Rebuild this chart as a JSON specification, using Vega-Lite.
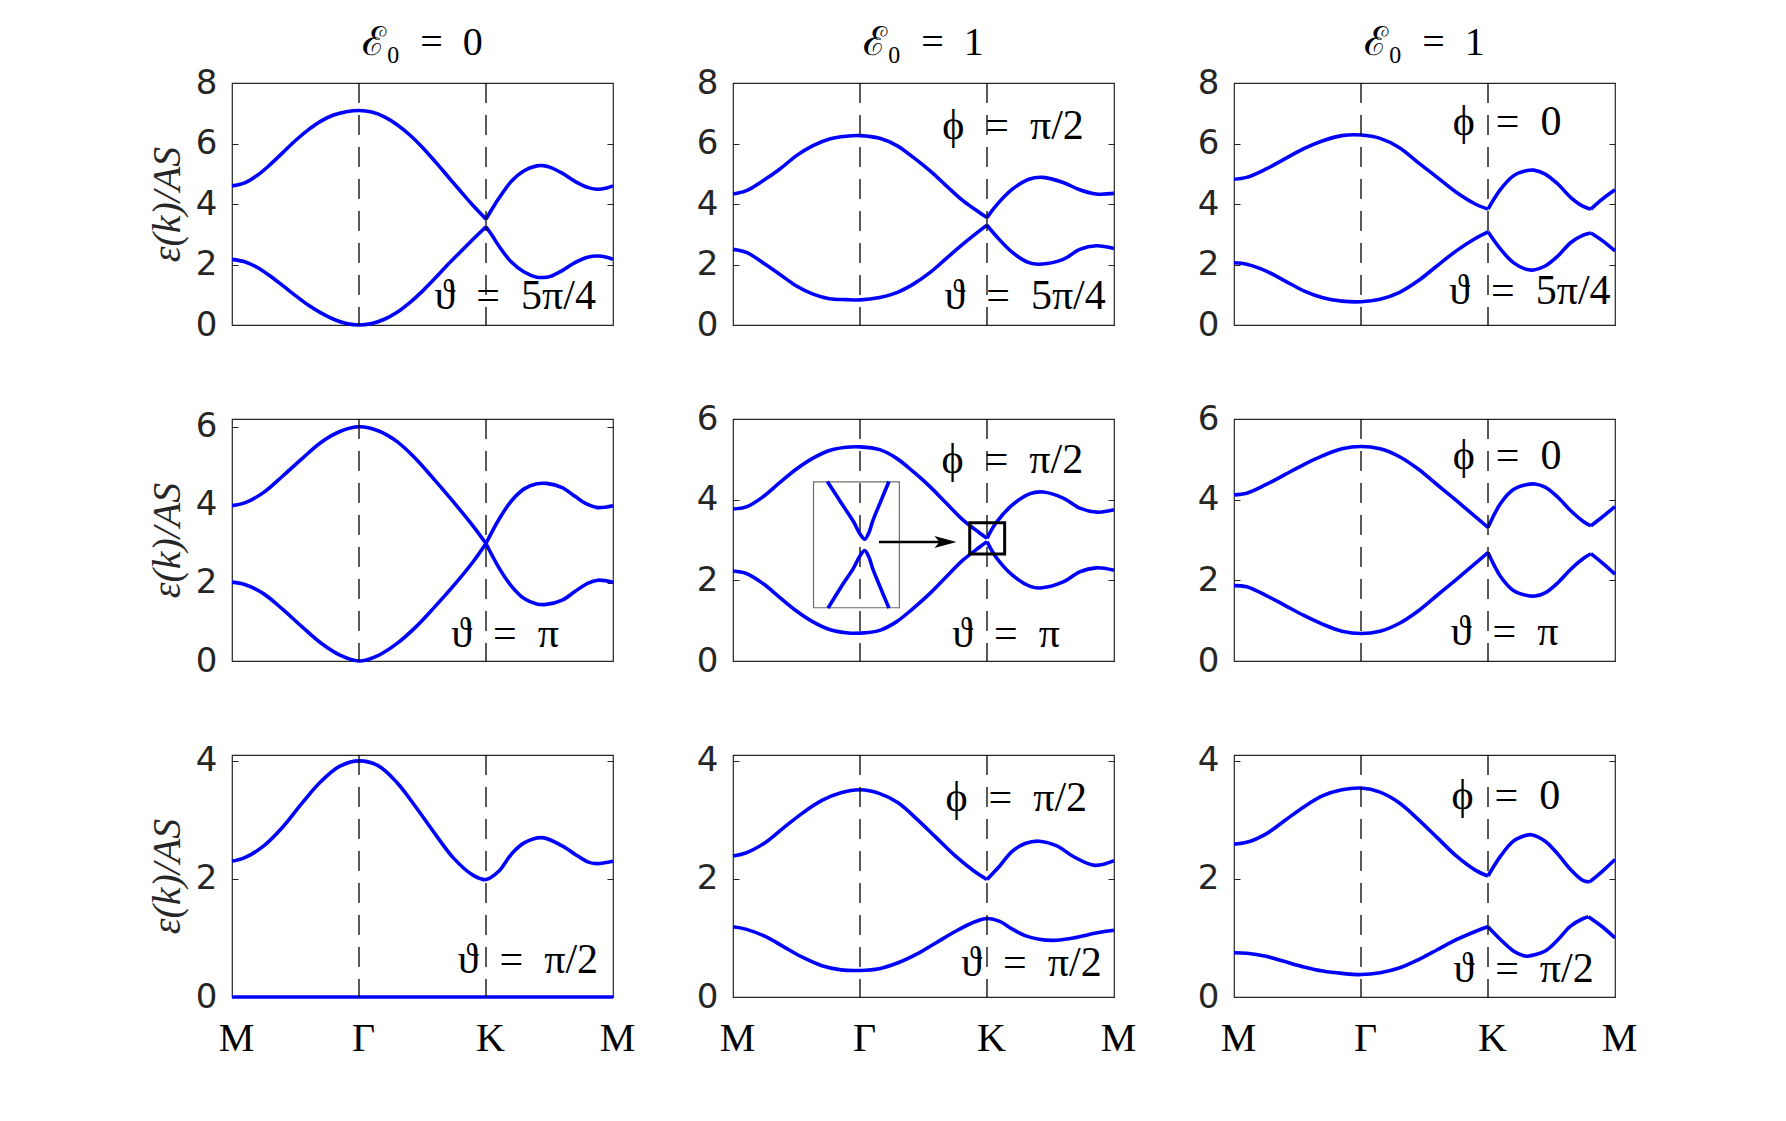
{
 "$schema": "https://vega.github.io/schema/vega-lite/v6.json",
 "background": "white",
 "padding": {"left": 146, "top": 22, "right": 10, "bottom": 10},
 "config": {"view": {"stroke": "#262626", "strokeWidth": 1.2}, "axis": {"grid": false}},
 "datasets": {
  "b1": [
   {"s":"u1","x":0,"y":4.6},{"s":"u1","x":0.1,"y":4.7},{"s":"u1","x":0.2,"y":4.95},{"s":"u1","x":0.3,"y":5.3},{"s":"u1","x":0.4,"y":5.7},{"s":"u1","x":0.5,"y":6.1},{"s":"u1","x":0.6,"y":6.45},{"s":"u1","x":0.7,"y":6.74},{"s":"u1","x":0.8,"y":6.94},{"s":"u1","x":0.9,"y":7.05},{"s":"u1","x":1,"y":7.09},{"s":"u1","x":1.1,"y":7.04},{"s":"u1","x":1.2,"y":6.88},{"s":"u1","x":1.3,"y":6.62},{"s":"u1","x":1.4,"y":6.28},{"s":"u1","x":1.5,"y":5.87},{"s":"u1","x":1.6,"y":5.4},{"s":"u1","x":1.7,"y":4.91},{"s":"u1","x":1.8,"y":4.42},{"s":"u1","x":1.9,"y":3.94},{"s":"u1","x":2,"y":3.5},
   {"s":"u2","x":2,"y":3.5},{"s":"u2","x":2.05,"y":3.85},{"s":"u2","x":2.1,"y":4.18},{"s":"u2","x":2.2,"y":4.75},{"s":"u2","x":2.3,"y":5.1},{"s":"u2","x":2.4,"y":5.26},{"s":"u2","x":2.45,"y":5.27},{"s":"u2","x":2.5,"y":5.22},{"s":"u2","x":2.6,"y":5.02},{"s":"u2","x":2.7,"y":4.75},{"s":"u2","x":2.8,"y":4.55},{"s":"u2","x":2.87,"y":4.49},{"s":"u2","x":2.95,"y":4.53},{"s":"u2","x":3,"y":4.6},
   {"s":"l1","x":0,"y":2.17},{"s":"l1","x":0.1,"y":2.09},{"s":"l1","x":0.2,"y":1.9},{"s":"l1","x":0.3,"y":1.62},{"s":"l1","x":0.4,"y":1.3},{"s":"l1","x":0.5,"y":0.97},{"s":"l1","x":0.6,"y":0.66},{"s":"l1","x":0.7,"y":0.4},{"s":"l1","x":0.8,"y":0.19},{"s":"l1","x":0.9,"y":0.05},{"s":"l1","x":1,"y":0},{"s":"l1","x":1.1,"y":0.05},{"s":"l1","x":1.2,"y":0.19},{"s":"l1","x":1.3,"y":0.42},{"s":"l1","x":1.4,"y":0.74},{"s":"l1","x":1.5,"y":1.12},{"s":"l1","x":1.6,"y":1.55},{"s":"l1","x":1.7,"y":2.0},{"s":"l1","x":1.8,"y":2.42},{"s":"l1","x":1.9,"y":2.84},{"s":"l1","x":2,"y":3.25},
   {"s":"l2","x":2,"y":3.25},{"s":"l2","x":2.05,"y":2.95},{"s":"l2","x":2.1,"y":2.62},{"s":"l2","x":2.2,"y":2.08},{"s":"l2","x":2.3,"y":1.75},{"s":"l2","x":2.4,"y":1.58},{"s":"l2","x":2.45,"y":1.57},{"s":"l2","x":2.5,"y":1.6},{"s":"l2","x":2.6,"y":1.8},{"s":"l2","x":2.7,"y":2.06},{"s":"l2","x":2.8,"y":2.24},{"s":"l2","x":2.88,"y":2.28},{"s":"l2","x":2.95,"y":2.24},{"s":"l2","x":3,"y":2.17}
  ],
  "b2": [
   {"s":"u1","x":0,"y":4.33},{"s":"u1","x":0.105,"y":4.44},{"s":"u1","x":0.236,"y":4.77},{"s":"u1","x":0.367,"y":5.15},{"s":"u1","x":0.5,"y":5.6},{"s":"u1","x":0.63,"y":5.93},{"s":"u1","x":0.76,"y":6.15},{"s":"u1","x":0.89,"y":6.24},{"s":"u1","x":1,"y":6.26},{"s":"u1","x":1.155,"y":6.17},{"s":"u1","x":1.29,"y":5.93},{"s":"u1","x":1.42,"y":5.54},{"s":"u1","x":1.55,"y":5.1},{"s":"u1","x":1.68,"y":4.6},{"s":"u1","x":1.81,"y":4.11},{"s":"u1","x":1.94,"y":3.72},{"s":"u1","x":2,"y":3.55},
   {"s":"u2","x":2,"y":3.55},{"s":"u2","x":2.07,"y":3.94},{"s":"u2","x":2.2,"y":4.49},{"s":"u2","x":2.33,"y":4.82},{"s":"u2","x":2.44,"y":4.88},{"s":"u2","x":2.6,"y":4.71},{"s":"u2","x":2.73,"y":4.47},{"s":"u2","x":2.86,"y":4.33},{"s":"u2","x":3,"y":4.35},
   {"s":"l1","x":0,"y":2.5},{"s":"l1","x":0.105,"y":2.4},{"s":"l1","x":0.236,"y":2.06},{"s":"l1","x":0.367,"y":1.68},{"s":"l1","x":0.5,"y":1.29},{"s":"l1","x":0.63,"y":1.02},{"s":"l1","x":0.76,"y":0.87},{"s":"l1","x":0.89,"y":0.84},{"s":"l1","x":1,"y":0.83},{"s":"l1","x":1.155,"y":0.91},{"s":"l1","x":1.29,"y":1.07},{"s":"l1","x":1.42,"y":1.35},{"s":"l1","x":1.55,"y":1.73},{"s":"l1","x":1.68,"y":2.2},{"s":"l1","x":1.81,"y":2.67},{"s":"l1","x":1.94,"y":3.11},{"s":"l1","x":2,"y":3.3},
   {"s":"l2","x":2,"y":3.3},{"s":"l2","x":2.07,"y":2.95},{"s":"l2","x":2.2,"y":2.4},{"s":"l2","x":2.33,"y":2.06},{"s":"l2","x":2.41,"y":2.01},{"s":"l2","x":2.6,"y":2.17},{"s":"l2","x":2.73,"y":2.5},{"s":"l2","x":2.86,"y":2.62},{"s":"l2","x":3,"y":2.53}
  ],
  "b3": [
   {"s":"u1","x":0,"y":4.82},{"s":"u1","x":0.1,"y":4.88},{"s":"u1","x":0.25,"y":5.15},{"s":"u1","x":0.4,"y":5.49},{"s":"u1","x":0.55,"y":5.83},{"s":"u1","x":0.7,"y":6.09},{"s":"u1","x":0.85,"y":6.26},{"s":"u1","x":1,"y":6.28},{"s":"u1","x":1.15,"y":6.17},{"s":"u1","x":1.3,"y":5.87},{"s":"u1","x":1.45,"y":5.37},{"s":"u1","x":1.6,"y":4.88},{"s":"u1","x":1.75,"y":4.39},{"s":"u1","x":1.9,"y":4},{"s":"u1","x":2,"y":3.83},
   {"s":"u2","x":2,"y":3.83},{"s":"u2","x":2.1,"y":4.49},{"s":"u2","x":2.2,"y":4.93},{"s":"u2","x":2.3,"y":5.1},{"s":"u2","x":2.36,"y":5.12},{"s":"u2","x":2.45,"y":4.99},{"s":"u2","x":2.55,"y":4.66},{"s":"u2","x":2.65,"y":4.22},{"s":"u2","x":2.75,"y":3.92},{"s":"u2","x":2.81,"y":3.83},
   {"s":"u3","x":2.81,"y":3.83},{"s":"u3","x":2.9,"y":4.16},{"s":"u3","x":3,"y":4.47},
   {"s":"l1","x":0,"y":2.06},{"s":"l1","x":0.1,"y":2.01},{"s":"l1","x":0.25,"y":1.79},{"s":"l1","x":0.4,"y":1.46},{"s":"l1","x":0.55,"y":1.13},{"s":"l1","x":0.7,"y":0.9},{"s":"l1","x":0.85,"y":0.79},{"s":"l1","x":1,"y":0.77},{"s":"l1","x":1.15,"y":0.85},{"s":"l1","x":1.3,"y":1.07},{"s":"l1","x":1.45,"y":1.46},{"s":"l1","x":1.6,"y":1.96},{"s":"l1","x":1.75,"y":2.45},{"s":"l1","x":1.9,"y":2.86},{"s":"l1","x":2,"y":3.08},
   {"s":"l2","x":2,"y":3.08},{"s":"l2","x":2.1,"y":2.5},{"s":"l2","x":2.2,"y":2.06},{"s":"l2","x":2.3,"y":1.84},{"s":"l2","x":2.36,"y":1.82},{"s":"l2","x":2.45,"y":1.95},{"s":"l2","x":2.55,"y":2.28},{"s":"l2","x":2.65,"y":2.72},{"s":"l2","x":2.75,"y":2.97},{"s":"l2","x":2.81,"y":3.04},
   {"s":"l3","x":2.81,"y":3.04},{"s":"l3","x":2.9,"y":2.79},{"s":"l3","x":3,"y":2.45}
  ],
  "b4": [
   {"s":"u1","x":0,"y":3.98},{"s":"u1","x":0.1,"y":4.05},{"s":"u1","x":0.25,"y":4.32},{"s":"u1","x":0.4,"y":4.74},{"s":"u1","x":0.55,"y":5.18},{"s":"u1","x":0.7,"y":5.6},{"s":"u1","x":0.85,"y":5.88},{"s":"u1","x":1,"y":6},{"s":"u1","x":1.15,"y":5.9},{"s":"u1","x":1.3,"y":5.62},{"s":"u1","x":1.45,"y":5.17},{"s":"u1","x":1.6,"y":4.62},{"s":"u1","x":1.75,"y":4.05},{"s":"u1","x":1.9,"y":3.45},{"s":"u1","x":2,"y":3.01},
   {"s":"u2","x":2,"y":3.01},{"s":"u2","x":2.1,"y":3.62},{"s":"u2","x":2.2,"y":4.1},{"s":"u2","x":2.3,"y":4.41},{"s":"u2","x":2.4,"y":4.54},{"s":"u2","x":2.475,"y":4.55},{"s":"u2","x":2.6,"y":4.44},{"s":"u2","x":2.7,"y":4.22},{"s":"u2","x":2.8,"y":4.01},{"s":"u2","x":2.88,"y":3.93},{"s":"u2","x":3,"y":3.98},
   {"s":"l1","x":0,"y":2.02},{"s":"l1","x":0.1,"y":1.96},{"s":"l1","x":0.25,"y":1.72},{"s":"l1","x":0.4,"y":1.32},{"s":"l1","x":0.55,"y":0.88},{"s":"l1","x":0.7,"y":0.46},{"s":"l1","x":0.85,"y":0.15},{"s":"l1","x":1,"y":0},{"s":"l1","x":1.15,"y":0.14},{"s":"l1","x":1.3,"y":0.45},{"s":"l1","x":1.45,"y":0.88},{"s":"l1","x":1.6,"y":1.4},{"s":"l1","x":1.75,"y":1.95},{"s":"l1","x":1.9,"y":2.55},{"s":"l1","x":2,"y":3.01},
   {"s":"l2","x":2,"y":3.01},{"s":"l2","x":2.1,"y":2.4},{"s":"l2","x":2.2,"y":1.92},{"s":"l2","x":2.3,"y":1.6},{"s":"l2","x":2.4,"y":1.46},{"s":"l2","x":2.475,"y":1.45},{"s":"l2","x":2.6,"y":1.56},{"s":"l2","x":2.7,"y":1.78},{"s":"l2","x":2.8,"y":1.99},{"s":"l2","x":2.88,"y":2.07},{"s":"l2","x":3,"y":2.02}
  ],
  "b5": [
   {"s":"u1","x":0,"y":3.77},{"s":"u1","x":0.105,"y":3.82},{"s":"u1","x":0.236,"y":4.07},{"s":"u1","x":0.367,"y":4.42},{"s":"u1","x":0.5,"y":4.76},{"s":"u1","x":0.63,"y":5.03},{"s":"u1","x":0.76,"y":5.22},{"s":"u1","x":0.89,"y":5.3},{"s":"u1","x":1,"y":5.31},{"s":"u1","x":1.155,"y":5.24},{"s":"u1","x":1.286,"y":5.03},{"s":"u1","x":1.417,"y":4.7},{"s":"u1","x":1.549,"y":4.33},{"s":"u1","x":1.68,"y":3.91},{"s":"u1","x":1.81,"y":3.5},{"s":"u1","x":1.94,"y":3.18},{"s":"u1","x":2,"y":3.04},
   {"s":"u2","x":2,"y":3.04},{"s":"u2","x":2.07,"y":3.42},{"s":"u2","x":2.2,"y":3.87},{"s":"u2","x":2.34,"y":4.15},{"s":"u2","x":2.44,"y":4.19},{"s":"u2","x":2.6,"y":4.04},{"s":"u2","x":2.73,"y":3.79},{"s":"u2","x":2.87,"y":3.69},{"s":"u2","x":3,"y":3.75},
   {"s":"l1","x":0,"y":2.23},{"s":"l1","x":0.105,"y":2.17},{"s":"l1","x":0.236,"y":1.92},{"s":"l1","x":0.367,"y":1.58},{"s":"l1","x":0.5,"y":1.24},{"s":"l1","x":0.63,"y":0.97},{"s":"l1","x":0.76,"y":0.78},{"s":"l1","x":0.89,"y":0.7},{"s":"l1","x":1,"y":0.69},{"s":"l1","x":1.155,"y":0.76},{"s":"l1","x":1.286,"y":0.97},{"s":"l1","x":1.417,"y":1.3},{"s":"l1","x":1.549,"y":1.67},{"s":"l1","x":1.68,"y":2.09},{"s":"l1","x":1.81,"y":2.5},{"s":"l1","x":1.94,"y":2.82},{"s":"l1","x":2,"y":2.96},
   {"s":"l2","x":2,"y":2.96},{"s":"l2","x":2.07,"y":2.58},{"s":"l2","x":2.2,"y":2.13},{"s":"l2","x":2.34,"y":1.85},{"s":"l2","x":2.42,"y":1.81},{"s":"l2","x":2.6,"y":1.96},{"s":"l2","x":2.73,"y":2.21},{"s":"l2","x":2.86,"y":2.31},{"s":"l2","x":3,"y":2.25}
  ],
  "b6": [
   {"s":"u1","x":0,"y":4.12},{"s":"u1","x":0.1,"y":4.16},{"s":"u1","x":0.25,"y":4.37},{"s":"u1","x":0.4,"y":4.62},{"s":"u1","x":0.55,"y":4.87},{"s":"u1","x":0.7,"y":5.09},{"s":"u1","x":0.85,"y":5.26},{"s":"u1","x":1,"y":5.32},{"s":"u1","x":1.15,"y":5.26},{"s":"u1","x":1.3,"y":5.07},{"s":"u1","x":1.45,"y":4.76},{"s":"u1","x":1.6,"y":4.37},{"s":"u1","x":1.75,"y":3.98},{"s":"u1","x":1.9,"y":3.58},{"s":"u1","x":2,"y":3.31},
   {"s":"u2","x":2,"y":3.31},{"s":"u2","x":2.1,"y":3.91},{"s":"u2","x":2.2,"y":4.25},{"s":"u2","x":2.3,"y":4.37},{"s":"u2","x":2.37,"y":4.39},{"s":"u2","x":2.45,"y":4.31},{"s":"u2","x":2.55,"y":4.06},{"s":"u2","x":2.65,"y":3.73},{"s":"u2","x":2.75,"y":3.46},{"s":"u2","x":2.81,"y":3.35},
   {"s":"u3","x":2.81,"y":3.35},{"s":"u3","x":2.9,"y":3.57},{"s":"u3","x":3,"y":3.83},
   {"s":"l1","x":0,"y":1.87},{"s":"l1","x":0.1,"y":1.84},{"s":"l1","x":0.25,"y":1.63},{"s":"l1","x":0.4,"y":1.38},{"s":"l1","x":0.55,"y":1.13},{"s":"l1","x":0.7,"y":0.91},{"s":"l1","x":0.85,"y":0.74},{"s":"l1","x":1,"y":0.68},{"s":"l1","x":1.15,"y":0.74},{"s":"l1","x":1.3,"y":0.93},{"s":"l1","x":1.45,"y":1.24},{"s":"l1","x":1.6,"y":1.63},{"s":"l1","x":1.75,"y":2.02},{"s":"l1","x":1.9,"y":2.42},{"s":"l1","x":2,"y":2.69},
   {"s":"l2","x":2,"y":2.69},{"s":"l2","x":2.1,"y":2.09},{"s":"l2","x":2.2,"y":1.75},{"s":"l2","x":2.3,"y":1.63},{"s":"l2","x":2.37,"y":1.61},{"s":"l2","x":2.45,"y":1.69},{"s":"l2","x":2.55,"y":1.94},{"s":"l2","x":2.65,"y":2.27},{"s":"l2","x":2.75,"y":2.54},{"s":"l2","x":2.81,"y":2.66},
   {"s":"l3","x":2.81,"y":2.66},{"s":"l3","x":2.9,"y":2.43},{"s":"l3","x":3,"y":2.15}
  ],
  "b7": [
   {"s":"u1","x":0,"y":2.3},{"s":"u1","x":0.1,"y":2.36},{"s":"u1","x":0.25,"y":2.56},{"s":"u1","x":0.4,"y":2.88},{"s":"u1","x":0.55,"y":3.28},{"s":"u1","x":0.7,"y":3.65},{"s":"u1","x":0.85,"y":3.91},{"s":"u1","x":1,"y":4},{"s":"u1","x":1.15,"y":3.92},{"s":"u1","x":1.3,"y":3.63},{"s":"u1","x":1.45,"y":3.21},{"s":"u1","x":1.6,"y":2.76},{"s":"u1","x":1.75,"y":2.34},{"s":"u1","x":1.9,"y":2.06},{"s":"u1","x":2,"y":1.99},{"s":"u1","x":2.1,"y":2.13},{"s":"u1","x":2.2,"y":2.42},{"s":"u1","x":2.3,"y":2.61},{"s":"u1","x":2.44,"y":2.7},{"s":"u1","x":2.6,"y":2.56},{"s":"u1","x":2.7,"y":2.42},{"s":"u1","x":2.8,"y":2.29},{"s":"u1","x":2.87,"y":2.26},{"s":"u1","x":3,"y":2.3},
   {"s":"l1","x":0,"y":0},{"s":"l1","x":3,"y":0}
  ],
  "b8": [
   {"s":"u1","x":0,"y":2.39},{"s":"u1","x":0.1,"y":2.44},{"s":"u1","x":0.25,"y":2.61},{"s":"u1","x":0.4,"y":2.87},{"s":"u1","x":0.55,"y":3.12},{"s":"u1","x":0.7,"y":3.33},{"s":"u1","x":0.85,"y":3.46},{"s":"u1","x":1,"y":3.51},{"s":"u1","x":1.15,"y":3.45},{"s":"u1","x":1.3,"y":3.29},{"s":"u1","x":1.45,"y":3.01},{"s":"u1","x":1.6,"y":2.7},{"s":"u1","x":1.75,"y":2.39},{"s":"u1","x":1.9,"y":2.13},{"s":"u1","x":2,"y":1.99},
   {"s":"u2","x":2,"y":1.99},{"s":"u2","x":2.1,"y":2.22},{"s":"u2","x":2.2,"y":2.47},{"s":"u2","x":2.3,"y":2.6},{"s":"u2","x":2.41,"y":2.64},{"s":"u2","x":2.55,"y":2.56},{"s":"u2","x":2.68,"y":2.38},{"s":"u2","x":2.85,"y":2.23},{"s":"u2","x":3,"y":2.31},
   {"s":"l1","x":0,"y":1.19},{"s":"l1","x":0.1,"y":1.15},{"s":"l1","x":0.25,"y":1.03},{"s":"l1","x":0.4,"y":0.85},{"s":"l1","x":0.55,"y":0.67},{"s":"l1","x":0.7,"y":0.53},{"s":"l1","x":0.85,"y":0.46},{"s":"l1","x":1,"y":0.45},{"s":"l1","x":1.15,"y":0.48},{"s":"l1","x":1.3,"y":0.58},{"s":"l1","x":1.45,"y":0.73},{"s":"l1","x":1.6,"y":0.92},{"s":"l1","x":1.75,"y":1.11},{"s":"l1","x":1.9,"y":1.27},{"s":"l1","x":2,"y":1.33},{"s":"l1","x":2.1,"y":1.28},{"s":"l1","x":2.2,"y":1.15},{"s":"l1","x":2.3,"y":1.04},{"s":"l1","x":2.41,"y":0.98},{"s":"l1","x":2.52,"y":0.96},{"s":"l1","x":2.68,"y":1},{"s":"l1","x":2.85,"y":1.08},{"s":"l1","x":3,"y":1.13}
  ],
  "b9": [
   {"s":"u1","x":0,"y":2.59},{"s":"u1","x":0.1,"y":2.62},{"s":"u1","x":0.25,"y":2.76},{"s":"u1","x":0.4,"y":2.99},{"s":"u1","x":0.55,"y":3.22},{"s":"u1","x":0.7,"y":3.41},{"s":"u1","x":0.85,"y":3.51},{"s":"u1","x":1,"y":3.54},{"s":"u1","x":1.15,"y":3.47},{"s":"u1","x":1.3,"y":3.29},{"s":"u1","x":1.45,"y":3.01},{"s":"u1","x":1.6,"y":2.7},{"s":"u1","x":1.75,"y":2.39},{"s":"u1","x":1.9,"y":2.15},{"s":"u1","x":2,"y":2.05},
   {"s":"u2","x":2,"y":2.05},{"s":"u2","x":2.1,"y":2.39},{"s":"u2","x":2.2,"y":2.64},{"s":"u2","x":2.3,"y":2.74},{"s":"u2","x":2.34,"y":2.75},{"s":"u2","x":2.45,"y":2.64},{"s":"u2","x":2.55,"y":2.42},{"s":"u2","x":2.65,"y":2.16},{"s":"u2","x":2.75,"y":1.97},{"s":"u2","x":2.8,"y":1.95},
   {"s":"u3","x":2.8,"y":1.95},{"s":"u3","x":2.9,"y":2.13},{"s":"u3","x":3,"y":2.33},
   {"s":"l1","x":0,"y":0.75},{"s":"l1","x":0.1,"y":0.74},{"s":"l1","x":0.25,"y":0.69},{"s":"l1","x":0.4,"y":0.6},{"s":"l1","x":0.55,"y":0.51},{"s":"l1","x":0.7,"y":0.44},{"s":"l1","x":0.85,"y":0.4},{"s":"l1","x":1,"y":0.38},{"s":"l1","x":1.15,"y":0.41},{"s":"l1","x":1.3,"y":0.49},{"s":"l1","x":1.45,"y":0.63},{"s":"l1","x":1.6,"y":0.8},{"s":"l1","x":1.75,"y":0.97},{"s":"l1","x":1.9,"y":1.11},{"s":"l1","x":2,"y":1.19},
   {"s":"l2","x":2,"y":1.19},{"s":"l2","x":2.1,"y":0.97},{"s":"l2","x":2.2,"y":0.78},{"s":"l2","x":2.28,"y":0.7},{"s":"l2","x":2.31,"y":0.69},{"s":"l2","x":2.45,"y":0.78},{"s":"l2","x":2.55,"y":0.97},{"s":"l2","x":2.65,"y":1.2},{"s":"l2","x":2.75,"y":1.33},{"s":"l2","x":2.79,"y":1.36},
   {"s":"l3","x":2.79,"y":1.36},{"s":"l3","x":2.9,"y":1.19},{"s":"l3","x":3,"y":1}
  ],
  "a1": [{"x":2.23,"y":0.53,"t":"\u03d1\u2002=\u20025\u03c0/4"}],
  "a2": [{"x":2.205,"y":6.15,"t":"\u03d5\u2002=\u2002\u03c0/2"},{"x":2.3,"y":0.53,"t":"\u03d1\u2002=\u20025\u03c0/4"}],
  "a3": [{"x":2.15,"y":6.28,"t":"\u03d5\u2002=\u20020"},{"x":2.33,"y":0.69,"t":"\u03d1\u2002=\u20025\u03c0/4"}],
  "a4": [{"x":2.15,"y":0.37,"t":"\u03d1\u2002=\u2002\u03c0"}],
  "a5": [{"x":2.2,"y":4.67,"t":"\u03d5\u2002=\u2002\u03c0/2"},{"x":2.15,"y":0.355,"t":"\u03d1\u2002=\u2002\u03c0"}],
  "a6": [{"x":2.15,"y":4.76,"t":"\u03d5\u2002=\u20020"},{"x":2.13,"y":0.4,"t":"\u03d1\u2002=\u2002\u03c0"}],
  "a7": [{"x":2.33,"y":0.4,"t":"\u03d1\u2002=\u2002\u03c0/2"}],
  "a8": [{"x":2.23,"y":3.15,"t":"\u03d5\u2002=\u2002\u03c0/2"},{"x":2.35,"y":0.36,"t":"\u03d1\u2002=\u2002\u03c0/2"}],
  "a9": [{"x":2.14,"y":3.18,"t":"\u03d5\u2002=\u20020"},{"x":2.28,"y":0.26,"t":"\u03d1\u2002=\u2002\u03c0/2"}],
  "dash": [{"x":1},{"x":2}],
  "insetbox": [{"x":0.634,"x2":1.31,"y":1.32,"y2":4.44}],
  "insetlines": [
   {"s":"u","x":0.743,"y":4.45},{"s":"u","x":0.85,"y":3.93},{"s":"u","x":0.95,"y":3.45},{"s":"u","x":1,"y":3.15},{"s":"u","x":1.037,"y":3.02},{"s":"u","x":1.07,"y":3.18},{"s":"u","x":1.1,"y":3.47},{"s":"u","x":1.15,"y":3.86},{"s":"u","x":1.228,"y":4.45},
   {"s":"l","x":0.748,"y":1.31},{"s":"l","x":0.85,"y":1.83},{"s":"l","x":0.95,"y":2.31},{"s":"l","x":1,"y":2.61},{"s":"l","x":1.037,"y":2.74},{"s":"l","x":1.07,"y":2.58},{"s":"l","x":1.1,"y":2.29},{"s":"l","x":1.15,"y":1.9},{"s":"l","x":1.228,"y":1.31}
  ],
  "arrow": [{"x":1.15,"y":2.95},{"x":1.66,"y":2.95}],
  "arrowhead": [{"x":1.673,"y":2.95}],
  "zoombox": [{"x":1.864,"x2":2.139,"y":2.65,"y2":3.43}]
 },
 "columns": 3,
 "spacing": {"row": 94, "column": 120},
 "bounds": "flush",
 "concat": [
  {
   "width": 381, "height": 242,
   "title": {"text": "\u2130\u2080\u2002=\u20020", "font": "Liberation Serif", "fontSize": 40, "fontWeight": "normal", "color": "black", "offset": -29, "baseline": "alphabetic"},
   "resolve": {"axis": {"y": "independent"}},
   "layer": [
    {"data": {"name": "b1"}, "mark": {"type": "line", "color": "#0000ff", "strokeWidth": 3.6, "interpolate": "catmull-rom"},
     "encoding": {"x": {"field": "x", "type": "quantitative", "scale": {"domain": [0, 3], "nice": false, "zero": false}, "axis": null},
      "y": {"field": "y", "type": "quantitative", "scale": {"domain": [0, 8], "nice": false, "zero": false},
       "axis": {"orient": "left", "values": [0, 2, 4, 6, 8], "offset": -6, "tickSize": 6, "tickColor": "#262626", "domain": false, "grid": false, "labelFont": "DejaVu Sans", "labelFontSize": 34, "labelColor": "#262626", "labelPadding": 15, "title": "\u03b5(k)/AS", "titleFont": "Liberation Serif", "titleFontStyle": "italic", "titleFontWeight": "normal", "titleFontSize": 40, "titleColor": "#262626", "titlePadding": 8}},
      "detail": {"field": "s"}}},
    {"data": {"name": "dash"}, "mark": {"type": "rule", "color": "black", "strokeWidth": 1.3, "strokeDash": [20, 12]},
     "encoding": {"x": {"field": "x", "type": "quantitative", "axis": null}}},
    {"data": {"name": "a1"}, "mark": {"type": "text", "font": "Liberation Serif", "fontSize": 42, "color": "black", "align": "center", "baseline": "alphabetic"},
     "encoding": {"x": {"field": "x", "type": "quantitative", "axis": null},
      "y": {"field": "y", "type": "quantitative", "axis": {"orient": "right", "values": [0, 2, 4, 6, 8], "offset": -6, "tickSize": 6, "tickColor": "#262626", "domain": false, "grid": false, "labels": false, "title": null}},
      "text": {"field": "t"}}}
   ]
  },
  {
   "width": 381, "height": 242,
   "title": {"text": "\u2130\u2080\u2002=\u20021", "font": "Liberation Serif", "fontSize": 40, "fontWeight": "normal", "color": "black", "offset": -29, "baseline": "alphabetic"},
   "resolve": {"axis": {"y": "independent"}},
   "layer": [
    {"data": {"name": "b2"}, "mark": {"type": "line", "color": "#0000ff", "strokeWidth": 3.6, "interpolate": "catmull-rom"},
     "encoding": {"x": {"field": "x", "type": "quantitative", "scale": {"domain": [0, 3], "nice": false, "zero": false}, "axis": null},
      "y": {"field": "y", "type": "quantitative", "scale": {"domain": [0, 8], "nice": false, "zero": false},
       "axis": {"orient": "left", "values": [0, 2, 4, 6, 8], "offset": -6, "tickSize": 6, "tickColor": "#262626", "domain": false, "grid": false, "labelFont": "DejaVu Sans", "labelFontSize": 34, "labelColor": "#262626", "labelPadding": 15, "title": null}},
      "detail": {"field": "s"}}},
    {"data": {"name": "dash"}, "mark": {"type": "rule", "color": "black", "strokeWidth": 1.3, "strokeDash": [20, 12]},
     "encoding": {"x": {"field": "x", "type": "quantitative", "axis": null}}},
    {"data": {"name": "a2"}, "mark": {"type": "text", "font": "Liberation Serif", "fontSize": 42, "color": "black", "align": "center", "baseline": "alphabetic"},
     "encoding": {"x": {"field": "x", "type": "quantitative", "axis": null},
      "y": {"field": "y", "type": "quantitative", "axis": {"orient": "right", "values": [0, 2, 4, 6, 8], "offset": -6, "tickSize": 6, "tickColor": "#262626", "domain": false, "grid": false, "labels": false, "title": null}},
      "text": {"field": "t"}}}
   ]
  },
  {
   "width": 381, "height": 242,
   "title": {"text": "\u2130\u2080\u2002=\u20021", "font": "Liberation Serif", "fontSize": 40, "fontWeight": "normal", "color": "black", "offset": -29, "baseline": "alphabetic"},
   "resolve": {"axis": {"y": "independent"}},
   "layer": [
    {"data": {"name": "b3"}, "mark": {"type": "line", "color": "#0000ff", "strokeWidth": 3.6, "interpolate": "catmull-rom"},
     "encoding": {"x": {"field": "x", "type": "quantitative", "scale": {"domain": [0, 3], "nice": false, "zero": false}, "axis": null},
      "y": {"field": "y", "type": "quantitative", "scale": {"domain": [0, 8], "nice": false, "zero": false},
       "axis": {"orient": "left", "values": [0, 2, 4, 6, 8], "offset": -6, "tickSize": 6, "tickColor": "#262626", "domain": false, "grid": false, "labelFont": "DejaVu Sans", "labelFontSize": 34, "labelColor": "#262626", "labelPadding": 15, "title": null}},
      "detail": {"field": "s"}}},
    {"data": {"name": "dash"}, "mark": {"type": "rule", "color": "black", "strokeWidth": 1.3, "strokeDash": [20, 12]},
     "encoding": {"x": {"field": "x", "type": "quantitative", "axis": null}}},
    {"data": {"name": "a3"}, "mark": {"type": "text", "font": "Liberation Serif", "fontSize": 42, "color": "black", "align": "center", "baseline": "alphabetic"},
     "encoding": {"x": {"field": "x", "type": "quantitative", "axis": null},
      "y": {"field": "y", "type": "quantitative", "axis": {"orient": "right", "values": [0, 2, 4, 6, 8], "offset": -6, "tickSize": 6, "tickColor": "#262626", "domain": false, "grid": false, "labels": false, "title": null}},
      "text": {"field": "t"}}}
   ]
  },
  {
   "width": 381, "height": 242,
   "resolve": {"axis": {"y": "independent"}},
   "layer": [
    {"data": {"name": "b4"}, "mark": {"type": "line", "color": "#0000ff", "strokeWidth": 3.6, "interpolate": "catmull-rom"},
     "encoding": {"x": {"field": "x", "type": "quantitative", "scale": {"domain": [0, 3], "nice": false, "zero": false}, "axis": null},
      "y": {"field": "y", "type": "quantitative", "scale": {"domain": [0, 6.2], "nice": false, "zero": false},
       "axis": {"orient": "left", "values": [0, 2, 4, 6], "offset": -6, "tickSize": 6, "tickColor": "#262626", "domain": false, "grid": false, "labelFont": "DejaVu Sans", "labelFontSize": 34, "labelColor": "#262626", "labelPadding": 15, "title": "\u03b5(k)/AS", "titleFont": "Liberation Serif", "titleFontStyle": "italic", "titleFontWeight": "normal", "titleFontSize": 40, "titleColor": "#262626", "titlePadding": 8}},
      "detail": {"field": "s"}}},
    {"data": {"name": "dash"}, "mark": {"type": "rule", "color": "black", "strokeWidth": 1.3, "strokeDash": [20, 12]},
     "encoding": {"x": {"field": "x", "type": "quantitative", "axis": null}}},
    {"data": {"name": "a4"}, "mark": {"type": "text", "font": "Liberation Serif", "fontSize": 42, "color": "black", "align": "center", "baseline": "alphabetic"},
     "encoding": {"x": {"field": "x", "type": "quantitative", "axis": null},
      "y": {"field": "y", "type": "quantitative", "axis": {"orient": "right", "values": [0, 2, 4, 6], "offset": -6, "tickSize": 6, "tickColor": "#262626", "domain": false, "grid": false, "labels": false, "title": null}},
      "text": {"field": "t"}}}
   ]
  },
  {
   "width": 381, "height": 242,
   "resolve": {"axis": {"y": "independent"}},
   "layer": [
    {"data": {"name": "b5"}, "mark": {"type": "line", "color": "#0000ff", "strokeWidth": 3.6, "interpolate": "catmull-rom"},
     "encoding": {"x": {"field": "x", "type": "quantitative", "scale": {"domain": [0, 3], "nice": false, "zero": false}, "axis": null},
      "y": {"field": "y", "type": "quantitative", "scale": {"domain": [0, 6], "nice": false, "zero": false},
       "axis": {"orient": "left", "values": [0, 2, 4, 6], "offset": -6, "tickSize": 6, "tickColor": "#262626", "domain": false, "grid": false, "labelFont": "DejaVu Sans", "labelFontSize": 34, "labelColor": "#262626", "labelPadding": 15, "title": null}},
      "detail": {"field": "s"}}},
    {"data": {"name": "dash"}, "mark": {"type": "rule", "color": "black", "strokeWidth": 1.3, "strokeDash": [20, 12]},
     "encoding": {"x": {"field": "x", "type": "quantitative", "axis": null}}},
    {"data": {"name": "insetbox"}, "mark": {"type": "rect", "fillOpacity": 0, "stroke": "#6e6e6e", "strokeWidth": 1.2},
     "encoding": {"x": {"field": "x", "type": "quantitative", "axis": null}, "x2": {"field": "x2"}, "y": {"field": "y", "type": "quantitative", "axis": null}, "y2": {"field": "y2"}}},
    {"data": {"name": "insetlines"}, "mark": {"type": "line", "color": "#0000ff", "strokeWidth": 3.6, "interpolate": "catmull-rom"},
     "encoding": {"x": {"field": "x", "type": "quantitative", "axis": null}, "y": {"field": "y", "type": "quantitative", "axis": null}, "detail": {"field": "s"}}},
    {"data": {"name": "arrow"}, "mark": {"type": "line", "color": "black", "strokeWidth": 2.5},
     "encoding": {"x": {"field": "x", "type": "quantitative", "axis": null}, "y": {"field": "y", "type": "quantitative", "axis": null}}},
    {"data": {"name": "arrowhead"}, "mark": {"type": "point", "shape": "M 1 0 L -1 -0.55 L -0.55 0 L -1 0.55 Z", "filled": true, "color": "black", "opacity": 1, "size": 484},
     "encoding": {"x": {"field": "x", "type": "quantitative", "axis": null}, "y": {"field": "y", "type": "quantitative", "axis": null}}},
    {"data": {"name": "zoombox"}, "mark": {"type": "rect", "fillOpacity": 0, "stroke": "black", "strokeWidth": 3},
     "encoding": {"x": {"field": "x", "type": "quantitative", "axis": null}, "x2": {"field": "x2"}, "y": {"field": "y", "type": "quantitative", "axis": null}, "y2": {"field": "y2"}}},
    {"data": {"name": "a5"}, "mark": {"type": "text", "font": "Liberation Serif", "fontSize": 42, "color": "black", "align": "center", "baseline": "alphabetic"},
     "encoding": {"x": {"field": "x", "type": "quantitative", "axis": null},
      "y": {"field": "y", "type": "quantitative", "axis": {"orient": "right", "values": [0, 2, 4, 6], "offset": -6, "tickSize": 6, "tickColor": "#262626", "domain": false, "grid": false, "labels": false, "title": null}},
      "text": {"field": "t"}}}
   ]
  },
  {
   "width": 381, "height": 242,
   "resolve": {"axis": {"y": "independent"}},
   "layer": [
    {"data": {"name": "b6"}, "mark": {"type": "line", "color": "#0000ff", "strokeWidth": 3.6, "interpolate": "catmull-rom"},
     "encoding": {"x": {"field": "x", "type": "quantitative", "scale": {"domain": [0, 3], "nice": false, "zero": false}, "axis": null},
      "y": {"field": "y", "type": "quantitative", "scale": {"domain": [0, 6], "nice": false, "zero": false},
       "axis": {"orient": "left", "values": [0, 2, 4, 6], "offset": -6, "tickSize": 6, "tickColor": "#262626", "domain": false, "grid": false, "labelFont": "DejaVu Sans", "labelFontSize": 34, "labelColor": "#262626", "labelPadding": 15, "title": null}},
      "detail": {"field": "s"}}},
    {"data": {"name": "dash"}, "mark": {"type": "rule", "color": "black", "strokeWidth": 1.3, "strokeDash": [20, 12]},
     "encoding": {"x": {"field": "x", "type": "quantitative", "axis": null}}},
    {"data": {"name": "a6"}, "mark": {"type": "text", "font": "Liberation Serif", "fontSize": 42, "color": "black", "align": "center", "baseline": "alphabetic"},
     "encoding": {"x": {"field": "x", "type": "quantitative", "axis": null},
      "y": {"field": "y", "type": "quantitative", "axis": {"orient": "right", "values": [0, 2, 4, 6], "offset": -6, "tickSize": 6, "tickColor": "#262626", "domain": false, "grid": false, "labels": false, "title": null}},
      "text": {"field": "t"}}}
   ]
  },
  {
   "width": 381, "height": 242,
   "resolve": {"axis": {"y": "independent"}},
   "layer": [
    {"data": {"name": "b7"}, "mark": {"type": "line", "color": "#0000ff", "strokeWidth": 3.6, "interpolate": "catmull-rom"},
     "encoding": {"x": {"field": "x", "type": "quantitative", "scale": {"domain": [0, 3], "nice": false, "zero": false},
       "axis": {"values": [0, 1, 2, 3], "labelExpr": "datum.value == 1 ? 'Γ' : datum.value == 2 ? 'K' : 'M'", "labelFont": "Liberation Serif", "labelFontSize": 40, "labelColor": "black", "labelPadding": 21, "labelOffset": 4, "labelFlush": false, "labelOverlap": false, "ticks": false, "domain": false, "grid": false, "title": null}},
      "y": {"field": "y", "type": "quantitative", "scale": {"domain": [0, 4.1], "nice": false, "zero": false},
       "axis": {"orient": "left", "values": [0, 2, 4], "offset": -6, "tickSize": 6, "tickColor": "#262626", "domain": false, "grid": false, "labelFont": "DejaVu Sans", "labelFontSize": 34, "labelColor": "#262626", "labelPadding": 15, "title": "\u03b5(k)/AS", "titleFont": "Liberation Serif", "titleFontStyle": "italic", "titleFontWeight": "normal", "titleFontSize": 40, "titleColor": "#262626", "titlePadding": 8}},
      "detail": {"field": "s"}}},
    {"data": {"name": "dash"}, "mark": {"type": "rule", "color": "black", "strokeWidth": 1.3, "strokeDash": [20, 12]},
     "encoding": {"x": {"field": "x", "type": "quantitative",
       "axis": {"values": [0, 1, 2, 3], "labelExpr": "datum.value == 1 ? 'Γ' : datum.value == 2 ? 'K' : 'M'", "labelFont": "Liberation Serif", "labelFontSize": 40, "labelColor": "black", "labelPadding": 21, "labelOffset": 4, "labelFlush": false, "labelOverlap": false, "ticks": false, "domain": false, "grid": false, "title": null}}}},
    {"data": {"name": "a7"}, "mark": {"type": "text", "font": "Liberation Serif", "fontSize": 42, "color": "black", "align": "center", "baseline": "alphabetic"},
     "encoding": {"x": {"field": "x", "type": "quantitative",
       "axis": {"values": [0, 1, 2, 3], "labelExpr": "datum.value == 1 ? 'Γ' : datum.value == 2 ? 'K' : 'M'", "labelFont": "Liberation Serif", "labelFontSize": 40, "labelColor": "black", "labelPadding": 21, "labelOffset": 4, "labelFlush": false, "labelOverlap": false, "ticks": false, "domain": false, "grid": false, "title": null}},
      "y": {"field": "y", "type": "quantitative", "axis": {"orient": "right", "values": [0, 2, 4], "offset": -6, "tickSize": 6, "tickColor": "#262626", "domain": false, "grid": false, "labels": false, "title": null}},
      "text": {"field": "t"}}}
   ]
  },
  {
   "width": 381, "height": 242,
   "resolve": {"axis": {"y": "independent"}},
   "layer": [
    {"data": {"name": "b8"}, "mark": {"type": "line", "color": "#0000ff", "strokeWidth": 3.6, "interpolate": "catmull-rom"},
     "encoding": {"x": {"field": "x", "type": "quantitative", "scale": {"domain": [0, 3], "nice": false, "zero": false},
       "axis": {"values": [0, 1, 2, 3], "labelExpr": "datum.value == 1 ? 'Γ' : datum.value == 2 ? 'K' : 'M'", "labelFont": "Liberation Serif", "labelFontSize": 40, "labelColor": "black", "labelPadding": 21, "labelOffset": 4, "labelFlush": false, "labelOverlap": false, "ticks": false, "domain": false, "grid": false, "title": null}},
      "y": {"field": "y", "type": "quantitative", "scale": {"domain": [0, 4.1], "nice": false, "zero": false},
       "axis": {"orient": "left", "values": [0, 2, 4], "offset": -6, "tickSize": 6, "tickColor": "#262626", "domain": false, "grid": false, "labelFont": "DejaVu Sans", "labelFontSize": 34, "labelColor": "#262626", "labelPadding": 15, "title": null}},
      "detail": {"field": "s"}}},
    {"data": {"name": "dash"}, "mark": {"type": "rule", "color": "black", "strokeWidth": 1.3, "strokeDash": [20, 12]},
     "encoding": {"x": {"field": "x", "type": "quantitative",
       "axis": {"values": [0, 1, 2, 3], "labelExpr": "datum.value == 1 ? 'Γ' : datum.value == 2 ? 'K' : 'M'", "labelFont": "Liberation Serif", "labelFontSize": 40, "labelColor": "black", "labelPadding": 21, "labelOffset": 4, "labelFlush": false, "labelOverlap": false, "ticks": false, "domain": false, "grid": false, "title": null}}}},
    {"data": {"name": "a8"}, "mark": {"type": "text", "font": "Liberation Serif", "fontSize": 42, "color": "black", "align": "center", "baseline": "alphabetic"},
     "encoding": {"x": {"field": "x", "type": "quantitative",
       "axis": {"values": [0, 1, 2, 3], "labelExpr": "datum.value == 1 ? 'Γ' : datum.value == 2 ? 'K' : 'M'", "labelFont": "Liberation Serif", "labelFontSize": 40, "labelColor": "black", "labelPadding": 21, "labelOffset": 4, "labelFlush": false, "labelOverlap": false, "ticks": false, "domain": false, "grid": false, "title": null}},
      "y": {"field": "y", "type": "quantitative", "axis": {"orient": "right", "values": [0, 2, 4], "offset": -6, "tickSize": 6, "tickColor": "#262626", "domain": false, "grid": false, "labels": false, "title": null}},
      "text": {"field": "t"}}}
   ]
  },
  {
   "width": 381, "height": 242,
   "resolve": {"axis": {"y": "independent"}},
   "layer": [
    {"data": {"name": "b9"}, "mark": {"type": "line", "color": "#0000ff", "strokeWidth": 3.6, "interpolate": "catmull-rom"},
     "encoding": {"x": {"field": "x", "type": "quantitative", "scale": {"domain": [0, 3], "nice": false, "zero": false},
       "axis": {"values": [0, 1, 2, 3], "labelExpr": "datum.value == 1 ? 'Γ' : datum.value == 2 ? 'K' : 'M'", "labelFont": "Liberation Serif", "labelFontSize": 40, "labelColor": "black", "labelPadding": 21, "labelOffset": 4, "labelFlush": false, "labelOverlap": false, "ticks": false, "domain": false, "grid": false, "title": null}},
      "y": {"field": "y", "type": "quantitative", "scale": {"domain": [0, 4.1], "nice": false, "zero": false},
       "axis": {"orient": "left", "values": [0, 2, 4], "offset": -6, "tickSize": 6, "tickColor": "#262626", "domain": false, "grid": false, "labelFont": "DejaVu Sans", "labelFontSize": 34, "labelColor": "#262626", "labelPadding": 15, "title": null}},
      "detail": {"field": "s"}}},
    {"data": {"name": "dash"}, "mark": {"type": "rule", "color": "black", "strokeWidth": 1.3, "strokeDash": [20, 12]},
     "encoding": {"x": {"field": "x", "type": "quantitative",
       "axis": {"values": [0, 1, 2, 3], "labelExpr": "datum.value == 1 ? 'Γ' : datum.value == 2 ? 'K' : 'M'", "labelFont": "Liberation Serif", "labelFontSize": 40, "labelColor": "black", "labelPadding": 21, "labelOffset": 4, "labelFlush": false, "labelOverlap": false, "ticks": false, "domain": false, "grid": false, "title": null}}}},
    {"data": {"name": "a9"}, "mark": {"type": "text", "font": "Liberation Serif", "fontSize": 42, "color": "black", "align": "center", "baseline": "alphabetic"},
     "encoding": {"x": {"field": "x", "type": "quantitative",
       "axis": {"values": [0, 1, 2, 3], "labelExpr": "datum.value == 1 ? 'Γ' : datum.value == 2 ? 'K' : 'M'", "labelFont": "Liberation Serif", "labelFontSize": 40, "labelColor": "black", "labelPadding": 21, "labelOffset": 4, "labelFlush": false, "labelOverlap": false, "ticks": false, "domain": false, "grid": false, "title": null}},
      "y": {"field": "y", "type": "quantitative", "axis": {"orient": "right", "values": [0, 2, 4], "offset": -6, "tickSize": 6, "tickColor": "#262626", "domain": false, "grid": false, "labels": false, "title": null}},
      "text": {"field": "t"}}}
   ]
  }
 ]
}
